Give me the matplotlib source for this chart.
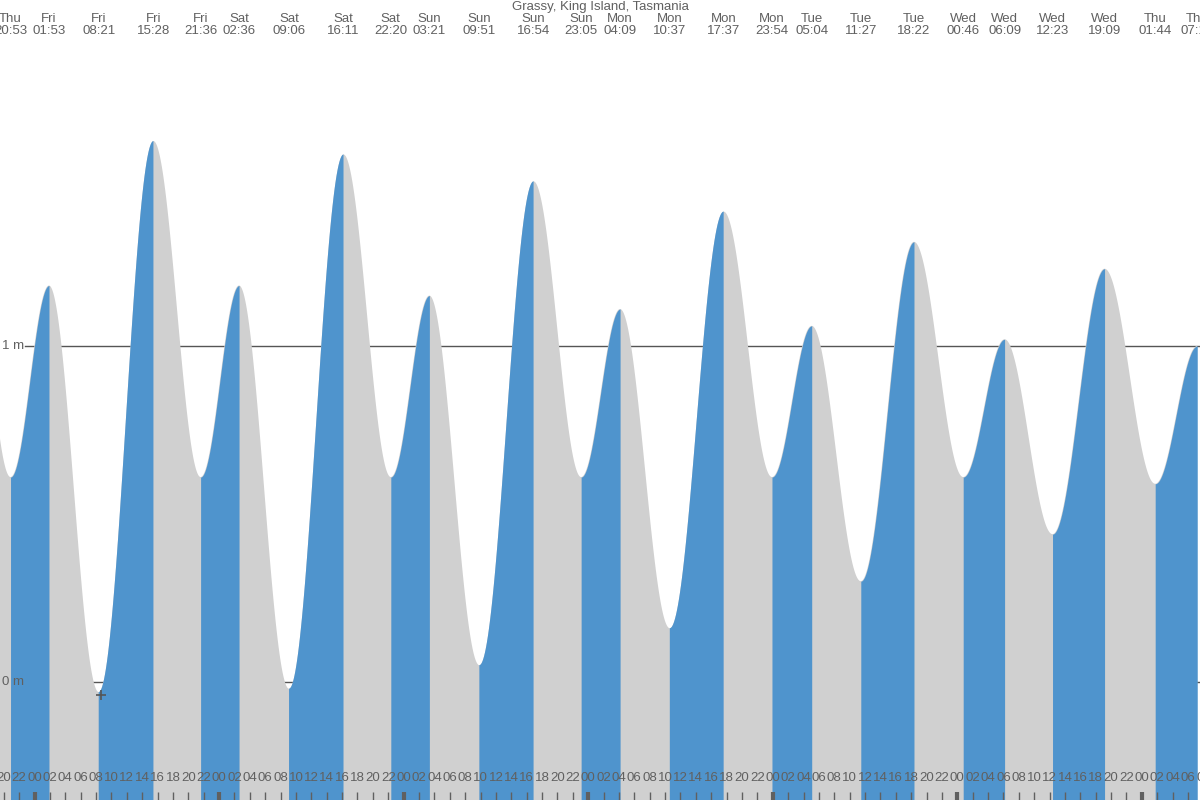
import numpy as np
import matplotlib.pyplot as plt

plt.rcParams['font.family'] = ['Liberation Sans', 'DejaVu Sans']

place = 'Grassy, King Island, Tasmania'

# tide turning points (first one is just left of the frame)
days = ['Thu', 'Thu', 'Fri', 'Fri', 'Fri', 'Fri', 'Sat', 'Sat', 'Sat', 'Sat',
        'Sun', 'Sun', 'Sun', 'Sun', 'Mon', 'Mon', 'Mon', 'Mon',
        'Tue', 'Tue', 'Tue', 'Wed', 'Wed', 'Wed', 'Wed', 'Thu', 'Thu']
times = ['14:40', '20:53', '01:53', '08:21', '15:28', '21:36', '02:36', '09:06', '16:11', '22:20',
         '03:21', '09:51', '16:54', '23:05', '04:09', '10:37', '17:37', '23:54',
         '05:04', '11:27', '18:22', '00:46', '06:09', '12:23', '19:09', '01:44', '07:12']
heights = [1.60, 0.61, 1.18, -0.03, 1.61, 0.61, 1.18, -0.02, 1.57, 0.61,
           1.15, 0.05, 1.49, 0.61, 1.11, 0.16, 1.40, 0.61,
           1.06, 0.30, 1.31, 0.61, 1.02, 0.44, 1.23, 0.59, 1.00]

blue = '#4f94cd'
grey = '#d0d0d0'
txt = '#606060'
fs = 9.5

# hours since Fri 00:00
hrs = []
day_off = -24
prev = days[0]
for d, t in zip(days, times):
    if d != prev:
        day_off += 24
        prev = d
    hh, mm = t.split(':')
    hrs.append(day_off + int(hh) + int(mm) / 60)
hrs = np.array(hrs)
heights = np.array(heights)

px_per_h = 7.69
x0 = -34.5 / px_per_h
x1 = (1200 - 34.5) / px_per_h

fig = plt.figure(figsize=(12, 8), dpi=100)
ax = fig.add_axes([0, 0, 1, 1])
ax.set_xlim(x0, x1)
ax.set_ylim((682 - 800) / 336, 682 / 336)
ax.axis('off')

# curve between turning points (cosine shape)
seg_t, seg_h = [], []
for i in range(len(hrs) - 1):
    t = np.linspace(hrs[i], hrs[i + 1], 80)
    f = (t - hrs[i]) / (hrs[i + 1] - hrs[i])
    h = heights[i] + (heights[i + 1] - heights[i]) * (1 - np.cos(np.pi * f)) / 2
    seg_t.append(t)
    seg_h.append(h)

# grey under whole curve, blue over the rising parts
ax.fill_between(np.concatenate(seg_t), -1, np.concatenate(seg_h), color=grey, lw=0, zorder=2)
for i in range(len(seg_t)):
    if heights[i + 1] > heights[i]:
        ax.fill_between(seg_t[i], -1, seg_h[i], color=blue, lw=0, zorder=3)

# reference lines (behind the fill)
for lvl, lab in [(1, '1 m'), (0, '0 m')]:
    ax.axhline(lvl, xmin=25 / 1200, xmax=1, color='#555555', lw=1, zorder=1)
    ax.text(x0 + 2 / px_per_h, lvl, lab, ha='left', va='center', fontsize=fs,
            color=txt, zorder=5)

# low-water mark
ax.plot(hrs[3] + 0.25, heights[3] - 0.01, '+', color='#555555', ms=7, mew=1.2, zorder=4)

# top labels
ax.text(0.5, 0.9915, place, transform=ax.transAxes, ha='center', va='center',
        fontsize=fs, color=txt)
tr = ax.get_xaxis_transform()
for d, t, x in zip(days, times, hrs):
    ax.text(x, 1 - 19 / 800, d, transform=tr, ha='center', va='center', fontsize=fs,
            color=txt, clip_on=True)
    ax.text(x, 1 - 31.5 / 800, t, transform=tr, ha='center', va='center', fontsize=fs,
            color=txt, clip_on=True)

# hour ticks along the bottom
for h in range(-4, 154, 2):
    lw = 3 if h % 24 == 0 else 1
    ax.plot([h, h], [0, 8 / 800], transform=tr, color='#606060', lw=lw,
            solid_capstyle='butt', zorder=5, clip_on=True)
    ax.text(h, 1 - 778 / 800, '%02d' % (h % 24), transform=tr, ha='center',
            va='center', fontsize=fs, color=txt, zorder=5, clip_on=True)

fig.savefig('out.png', dpi=100)
